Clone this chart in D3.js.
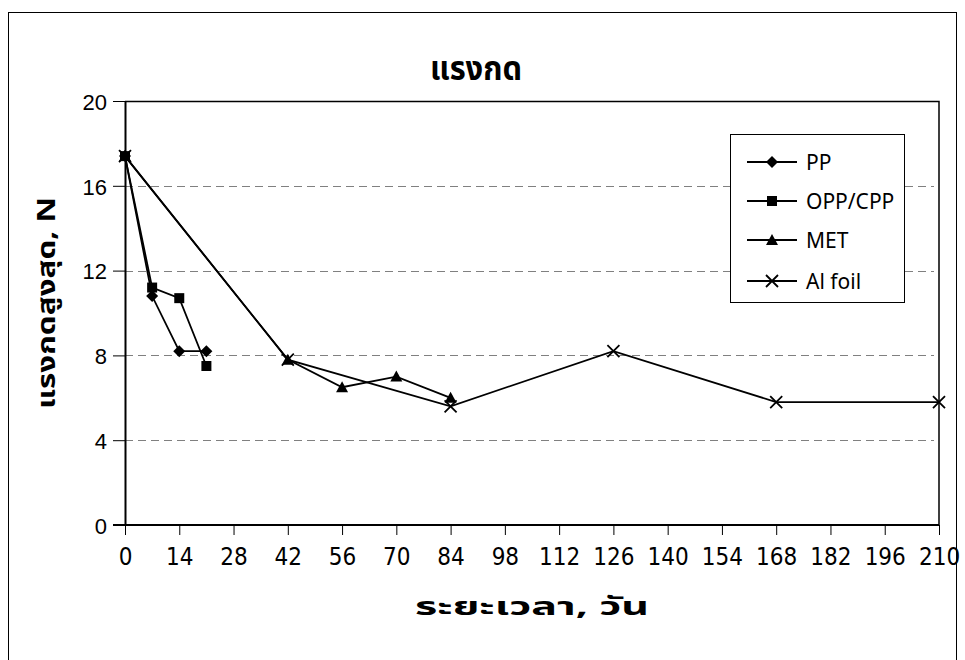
<!DOCTYPE html>
<html>
<head>
<meta charset="utf-8">
<script src="https://cdn.jsdelivr.net/npm/d3@7"></script>
<style>
  html, body { margin: 0; padding: 0; background: #fff; }
  svg { display: block; }
  text { font-family: Tahoma, "Noto Sans Thai", Loma, Garuda, "Liberation Sans", "DejaVu Sans", sans-serif; fill: #000; }
</style>
</head>
<body>
<svg id="chart" width="965" height="660"></svg>
<script>
// Compression force over storage time for four packaging films
const xTicks = [0, 14, 28, 42, 56, 70, 84, 98, 112, 126, 140, 154, 168, 182, 196, 210];
const yTicks = [0, 4, 8, 12, 16, 20];

const ppDays  = [0, 7, 14, 21];
const ppVals  = [17.4, 10.8, 8.2, 8.2];
const oppDays = [0, 7, 14, 21];
const oppVals = [17.4, 11.2, 10.7, 7.5];
const metDays = [0, 42, 56, 70, 84];
const metVals = [17.4, 7.8, 6.5, 7.0, 6.0];
const alDays  = [0, 42, 84, 126, 168, 210];
const alVals  = [17.4, 7.8, 5.6, 8.2, 5.8, 5.8];

const seriesNames = ["PP", "OPP/CPP", "MET", "Al foil"];
const markerKinds = ["diamond", "square", "triangle", "cross"];

const titleText = "แรงกด";
const xTitle = "ระยะเวลา, วัน";
const yTitle = "แรงกดสูงสุด, N";

const series = [
  { name: seriesNames[0], marker: markerKinds[0], pts: ppDays.map((d, i) => [d, ppVals[i]]) },
  { name: seriesNames[1], marker: markerKinds[1], pts: oppDays.map((d, i) => [d, oppVals[i]]) },
  { name: seriesNames[2], marker: markerKinds[2], pts: metDays.map((d, i) => [d, metVals[i]]) },
  { name: seriesNames[3], marker: markerKinds[3], pts: alDays.map((d, i) => [d, alVals[i]]) }
];

const svg = d3.select("#chart");
const plot = { left: 125, right: 939, top: 101, bottom: 525 };

const x = d3.scaleLinear().domain([0, 210]).range([plot.left, plot.right]);
const y = d3.scaleLinear().domain([0, 20]).range([plot.bottom, plot.top]);

// outer chart frame
svg.append("rect")
  .attr("x", 8.5).attr("y", 12.5).attr("width", 948).attr("height", 700)
  .attr("fill", "#fff").attr("stroke", "#000").attr("stroke-width", 1);

// title
svg.append("text")
  .attr("x", 476).attr("y", 80)
  .attr("text-anchor", "middle")
  .attr("textLength", 92).attr("lengthAdjust", "spacingAndGlyphs")
  .style("font-size", "33px").style("font-weight", "bold")
  .text(titleText);

// dashed horizontal gridlines
svg.append("g")
  .selectAll("line")
  .data(yTicks.filter(v => v > 0 && v < 20))
  .join("line")
  .attr("x1", plot.left).attr("x2", plot.right - 5)
  .attr("y1", d => Math.round(y(d)) + 0.5).attr("y2", d => Math.round(y(d)) + 0.5)
  .attr("stroke", "#808080").attr("stroke-width", 1.2)
  .attr("stroke-dasharray", "8,5");

// plot area border (top and right)
svg.append("path")
  .attr("d", `M${plot.left},${plot.top + 0.5}H${plot.right}V${plot.bottom}`)
  .attr("fill", "none").attr("stroke", "#000").attr("stroke-width", 1.5);

// y axis
const yAxis = d3.axisLeft(y).tickValues(yTicks).tickSize(12).tickSizeOuter(0).tickPadding(6);
const gy = svg.append("g").attr("transform", `translate(${plot.left},0)`).call(yAxis);
gy.select(".domain").attr("stroke", "#000").attr("stroke-width", 2);
gy.selectAll(".tick line").attr("stroke", "#000").attr("stroke-width", 1);
gy.selectAll(".tick text")
  .style("font-size", "22px")
  .attr("dy", "0.38em")
  .style("font-family", "'Liberation Sans', Arial, sans-serif");

// x axis: ticks hang below the axis line, labels sit further down
const xAxis = d3.axisBottom(x).tickValues(xTicks).tickSize(10).tickSizeOuter(0).tickPadding(13);
const gx = svg.append("g").attr("transform", `translate(0,${plot.bottom})`).call(xAxis);
gx.select(".domain").attr("stroke", "#000").attr("stroke-width", 2).attr("d", `M${plot.left - 12},0H${plot.right}`);
gx.selectAll(".tick line").attr("stroke", "#000").attr("stroke-width", 1);
gx.selectAll(".tick text")
  .style("font-size", "24px")
  .style("font-family", "'Liberation Sans Narrow', 'DejaVu Sans Condensed', 'Liberation Sans', sans-serif");

// axis titles
svg.append("text")
  .attr("x", 532).attr("y", 615)
  .attr("text-anchor", "middle")
  .attr("textLength", 234).attr("lengthAdjust", "spacingAndGlyphs")
  .style("font-size", "25px").style("font-weight", "bold")
  .text(xTitle);

svg.append("text")
  .attr("transform", "translate(55,303) rotate(-90)")
  .attr("text-anchor", "middle")
  .attr("textLength", 212).attr("lengthAdjust", "spacingAndGlyphs")
  .style("font-size", "25px").style("font-weight", "bold")
  .text(yTitle);

// marker shapes
function drawMarker(g, kind, cx, cy) {
  if (kind === "diamond") {
    g.append("path").attr("d", `M${cx},${cy - 6}L${cx + 6},${cy}L${cx},${cy + 6}L${cx - 6},${cy}Z`).attr("fill", "#000");
  } else if (kind === "square") {
    g.append("rect").attr("x", cx - 5).attr("y", cy - 5).attr("width", 10).attr("height", 10).attr("fill", "#000");
  } else if (kind === "triangle") {
    g.append("path").attr("d", `M${cx},${cy - 6}L${cx + 6},${cy + 5}L${cx - 6},${cy + 5}Z`).attr("fill", "#000");
  } else {
    g.append("path").attr("d", `M${cx - 6},${cy - 6}L${cx + 6},${cy + 6}M${cx + 6},${cy - 6}L${cx - 6},${cy + 6}`)
      .attr("stroke", "#000").attr("stroke-width", 1.8).attr("fill", "none");
  }
}

const line = d3.line().x(d => x(d[0])).y(d => y(d[1]));

series.forEach(s => {
  const g = svg.append("g");
  g.append("path").datum(s.pts).attr("d", line)
    .attr("fill", "none").attr("stroke", "#000").attr("stroke-width", 1.8);
  s.pts.forEach(p => drawMarker(g, s.marker, x(p[0]), y(p[1])));
});

// legend
const legend = svg.append("g");
legend.append("rect")
  .attr("x", 730.5).attr("y", 134.5).attr("width", 174).attr("height", 168)
  .attr("fill", "#fff").attr("stroke", "#000").attr("stroke-width", 1);
const legendY = [162, 201, 240, 281];
series.forEach((s, i) => {
  const ly = legendY[i];
  legend.append("line").attr("x1", 747).attr("x2", 797).attr("y1", ly).attr("y2", ly)
    .attr("stroke", "#000").attr("stroke-width", 1.8);
  drawMarker(legend, s.marker, 772, ly);
  legend.append("text").attr("x", 806).attr("y", ly).attr("dy", "0.36em")
    .style("font-size", "21px")
    .text(s.name);
});
</script>
</body>
</html>
